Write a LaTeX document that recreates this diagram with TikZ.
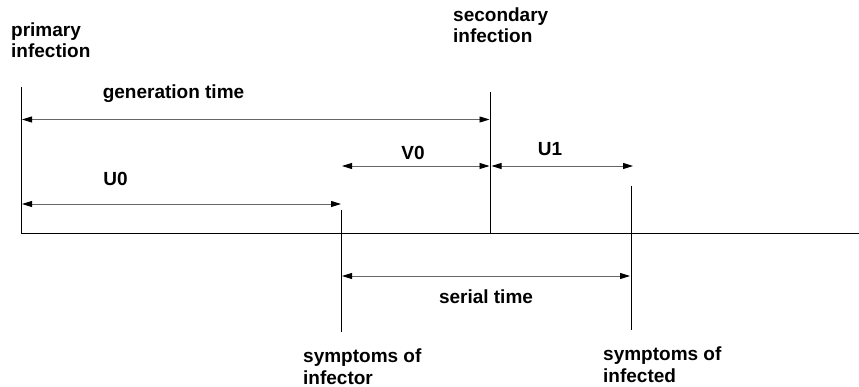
\documentclass[tikz,border=0pt]{standalone}
\usepackage{fontspec}
\setmainfont{Liberation Sans}
\usetikzlibrary{arrows.meta}
\tikzset{
  lbl/.style={font=\bfseries\fontsize{19}{21.5}\selectfont, inner sep=0pt, text=black},
  mlbl/.style={lbl, align=left, anchor=base west},
  vline/.style={draw=black, line width=1pt},
  span/.style={draw=black!60, line width=0.9pt,
    {Triangle[length=10pt,width=6pt,black]}-{Triangle[length=10pt,width=6pt,black]}}
}
\begin{document}
\begin{tikzpicture}[x=1pt,y=-1pt]
\useasboundingbox (0,0) rectangle (859,387);
% event coordinates
\coordinate (PItop) at (21,87);
\coordinate (PIbot) at (21,233.5);
\coordinate (SItop) at (490.5,92);
\coordinate (SIbot) at (490.5,233.5);
\coordinate (SXtop) at (341,210);
\coordinate (SXbot) at (341,332);
\coordinate (SDtop) at (631,186);
\coordinate (SDbot) at (631,330);
\coordinate (AxisEnd) at (859,233.5);
% vertical lines and axis
\draw[vline] (PItop) -- (PIbot) -- (AxisEnd);
\draw[vline] (SItop) -- (SIbot);
\draw[vline] (SXtop) -- (SXbot);
\draw[vline] (SDtop) -- (SDbot);
% arrow end points
\coordinate (g1) at (22,119.5);   \coordinate (g2) at (489.5,119.5);
\coordinate (v1) at (342,166);    \coordinate (v2) at (489.5,166);
\coordinate (u1a) at (491.5,166); \coordinate (u1b) at (633,166);
\coordinate (u0a) at (22,204);    \coordinate (u0b) at (341,204);
\coordinate (s1) at (342,276);    \coordinate (s2) at (630,276);
\draw[span] (g1) -- (g2);
\draw[span] (v1) -- (v2);
\draw[span] (u1a) -- (u1b);
\draw[span] (u0a) -- (u0b);
\draw[span] (s1) -- (s2);
% labels
\node[lbl, anchor=base] (gt) at (173.5,99) {generation time};
\node[lbl, anchor=base] (V0) at (413,160) {V0};
\node[lbl, anchor=base] (U1) at (550,156) {U1};
\node[lbl, anchor=base] (U0) at (115.5,186) {U0};
\node[lbl, anchor=base] (st) at (486,303) {serial time};
\node[mlbl] (pi) at (11,58) {primary\\infection};
\node[mlbl] (si) at (453,43) {secondary\\infection};
\node[mlbl] (sx) at (303,384) {symptoms of\\infector};
\node[mlbl] (sd) at (603,382) {symptoms of\\infected};
\end{tikzpicture}
\end{document}
